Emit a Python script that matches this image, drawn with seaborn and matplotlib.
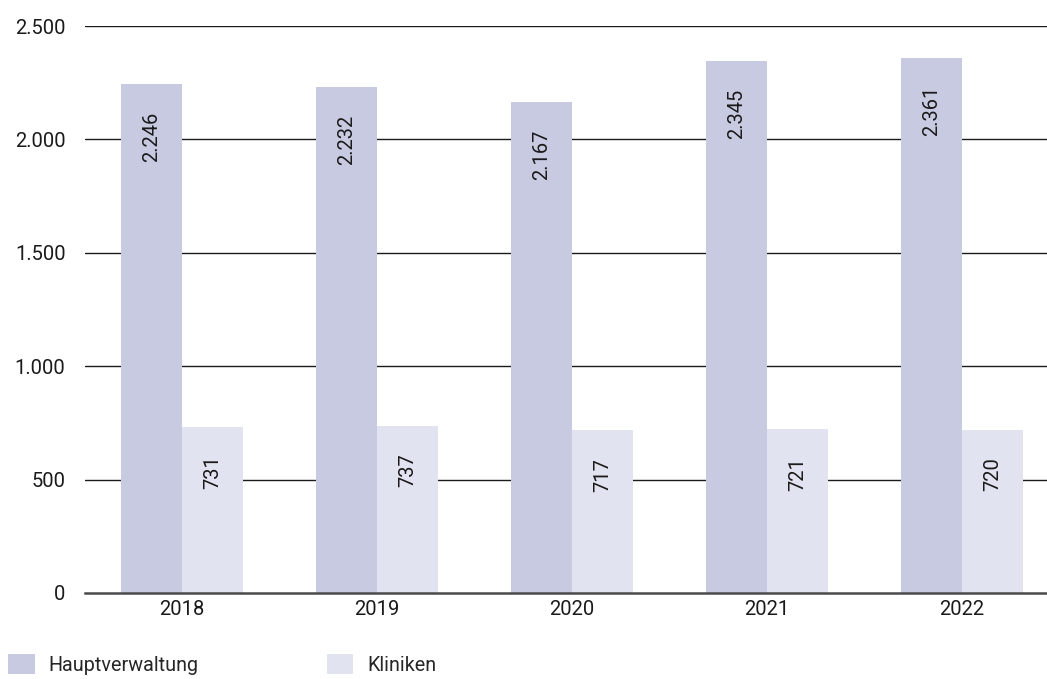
import matplotlib
matplotlib.use("Agg")
import matplotlib.pyplot as plt
import seaborn as sns
import pandas as pd
from matplotlib.patches import Patch

years = ["2018", "2019", "2020", "2021", "2022"]
hauptverwaltung = [2246, 2232, 2167, 2345, 2361]
kliniken = [731, 737, 717, 721, 720]
series_names = ["Hauptverwaltung", "Kliniken"]
y_ticks = [0, 500, 1000, 1500, 2000, 2500]

colors = ["#c8cae2", "#e2e3f0"]

df = pd.DataFrame({
    "Jahr": years * 2,
    "Wert": hauptverwaltung + kliniken,
    "Serie": [series_names[0]] * len(years) + [series_names[1]] * len(years),
})

sns.set_theme(style="white")
plt.rcParams["font.family"] = ["Roboto", "DejaVu Sans"]

fig = plt.figure(figsize=(10.47, 6.79), dpi=100)
ax = fig.add_axes([85 / 1047, 1 - 593 / 679, 1 - 85 / 1047, (593 - 26) / 679])

sns.barplot(data=df, x="Jahr", y="Wert", hue="Serie", palette=colors,
            width=0.626, ax=ax, legend=False, saturation=1, zorder=3,
            linewidth=0, edgecolor="none")

ax.set_ylim(0, 2500)
ax.set_xlim(-0.497, 4.436)
ax.set_yticks(y_ticks)
ax.set_yticklabels([f"{v:,}".replace(",", ".") for v in y_ticks])
for v in y_ticks[1:]:
    ax.axhline(v, color="#1a1a1a", lw=1.0, zorder=1)
ax.set_xlabel("")
ax.set_ylabel("")
for s in ["top", "right", "left"]:
    ax.spines[s].set_visible(False)
ax.spines["bottom"].set_color("#4a4a4a")
ax.spines["bottom"].set_linewidth(1.8)
ax.spines["bottom"].set_zorder(4)
ax.tick_params(axis="both", length=0, labelsize=14.5, colors="#1a1a1a")
ax.tick_params(axis="y", pad=14)
ax.tick_params(axis="x", pad=5)

for cont in ax.containers:
    for bar in cont:
        h = bar.get_height()
        ax.annotate(f"{int(h):,}".replace(",", "."),
                    xy=(bar.get_x() + bar.get_width() / 2, h),
                    xytext=(0, -20), textcoords="offset points",
                    rotation=90, ha="center", va="top", fontsize=14.5,
                    color="#1a1a1a", zorder=5)

handles = [Patch(facecolor=c, edgecolor="none") for c in colors]
fig.legend(handles, series_names, loc="lower left", bbox_to_anchor=(0.0, -0.005),
           ncol=2, frameon=False, fontsize=14.2, handlelength=1.35,
           handleheight=1.2, handletextpad=0.7, columnspacing=6.5,
           borderaxespad=0.2, borderpad=0.2)

fig.savefig("out.png", dpi=100)
